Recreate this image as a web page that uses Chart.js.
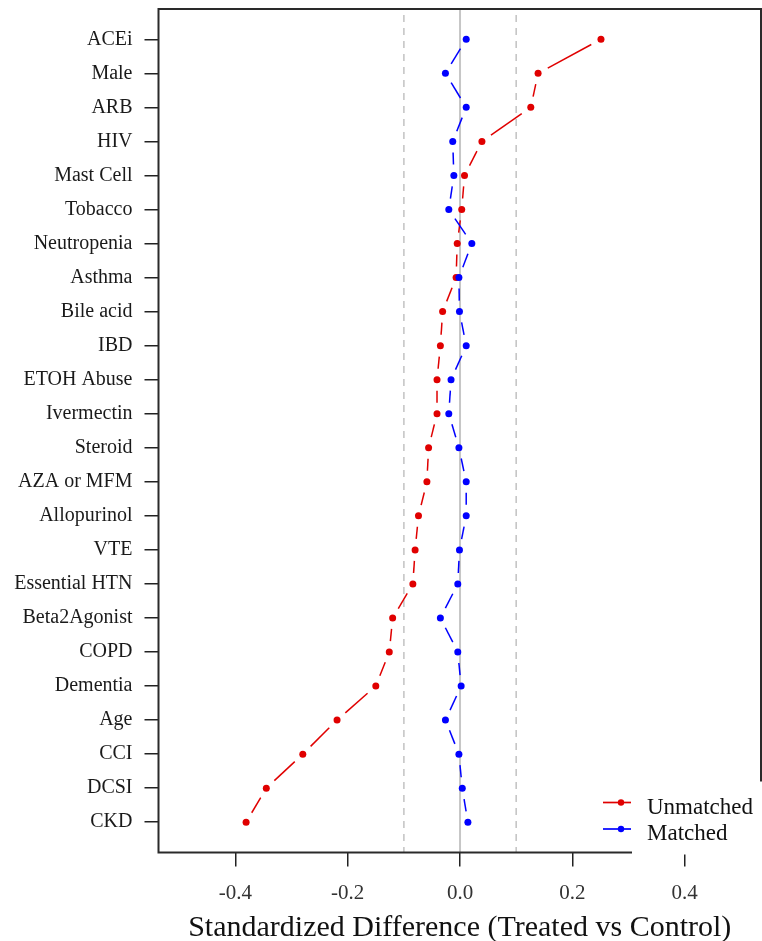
<!DOCTYPE html>
<html>
<head>
<meta charset="utf-8">
<script src="https://cdn.jsdelivr.net/npm/chart.js@4.4.1/dist/chart.umd.min.js"></script>
<style>
    html, body { margin: 0; padding: 0; background: #fff; overflow: hidden; }
    #contenedor { width: 762px; height: 941px; }
</style>
</head>
<body>
<div id="contenedor"><canvas id="grafica-balance"></canvas></div>
<script>
//Variables del eje y (de arriba a abajo)
const variables = ['ACEi', 'Male', 'ARB', 'HIV', 'Mast Cell', 'Tobacco', 'Neutropenia', 'Asthma',
    'Bile acid', 'IBD', 'ETOH Abuse', 'Ivermectin', 'Steroid', 'AZA or MFM', 'Allopurinol', 'VTE',
    'Essential HTN', 'Beta2Agonist', 'COPD', 'Dementia', 'Age', 'CCI', 'DCSI', 'CKD'];

//Diferencias estandarizadas antes del emparejamiento
const unmatched = [0.251, 0.139, 0.126, 0.039, 0.008, 0.003, -0.005, -0.007,
    -0.031, -0.035, -0.041, -0.041, -0.056, -0.059, -0.074, -0.080,
    -0.084, -0.120, -0.126, -0.150, -0.219, -0.280, -0.345, -0.381];

//Diferencias estandarizadas despues del emparejamiento
const matched = [0.011, -0.026, 0.011, -0.013, -0.011, -0.020, 0.021, -0.002,
    -0.001, 0.011, -0.016, -0.020, -0.002, 0.011, 0.011, -0.001,
    -0.004, -0.035, -0.004, 0.002, -0.026, -0.002, 0.004, 0.014];

const xTicks = [-0.4, -0.2, 0.0, 0.2, 0.4];
const lineasReferencia = [-0.1, 0.0, 0.1];

const fuente = "'Liberation Serif', 'DejaVu Serif', serif";
const ROJO = '#e00000';
const AZUL = '#0000ff';
const HUECO = 11; // hueco alrededor de cada punto (tipo "b" de R)

//Cada tramo se dibuja como un solo trazo con hueco en ambos extremos
function trazoTramo(ctx) {
    const largo = Math.hypot(ctx.p1.x - ctx.p0.x, ctx.p1.y - ctx.p0.y);
    return [Math.max(largo - 2 * HUECO, 0), 1000 + ctx.p0DataIndex];
}

function serie(etiqueta, valores, color, orden) {
    return {
        label: etiqueta,
        data: valores.map((v, i) => ({x: v, y: i})),
        showLine: true,
        order: orden,
        borderColor: color,
        backgroundColor: color,
        borderWidth: 1.5,
        pointRadius: 3.5,
        pointBorderWidth: 0,
        pointBackgroundColor: color,
        segment: {
            borderDash: trazoTramo,
            borderDashOffset: -HUECO
        }
    };
}

let datos = {
    datasets: [
        serie('Unmatched', unmatched, ROJO, 2),
        serie('Matched', matched, AZUL, 1)
    ]
};

//Lineas grises de referencia, marco y leyenda
const marcoYLeyenda = {
    id: 'marcoYLeyenda',
    beforeDatasetsDraw(chart) {
        const {ctx, chartArea: {top, bottom}, scales: {x}} = chart;
        ctx.save();
        lineasReferencia.forEach(v => {
            const px = x.getPixelForValue(v);
            ctx.beginPath();
            ctx.strokeStyle = '#c6c6c6';
            ctx.lineWidth = v === 0 ? 2 : 1.6;
            ctx.setLineDash(v === 0 ? [] : [7, 6]);
            ctx.moveTo(px, v === 0 ? top : top + 6);
            ctx.lineTo(px, bottom);
            ctx.stroke();
        });
        ctx.restore();
        // recalcular los tramos con las posiciones finales
        chart.data.datasets.forEach((d, i) => {
            const linea = chart.getDatasetMeta(i).dataset;
            if (linea) linea.points = linea.points;
        });
    },
    afterDraw(chart) {
        const {ctx, chartArea: {top, bottom, left, right}} = chart;
        ctx.save();
        ctx.strokeStyle = '#2a2a2a';
        ctx.lineWidth = 2;
        ctx.strokeRect(left, top, right - left, bottom - top);

        // caja blanca de la leyenda
        ctx.fillStyle = '#fff';
        ctx.fillRect(right - 129, bottom - 71, chart.width - right + 129, 73);

        chart.data.datasets.forEach((d, i) => {
            const y = bottom - 50 + i * 26.5;
            ctx.strokeStyle = d.borderColor;
            ctx.lineWidth = 1.7;
            ctx.beginPath();
            ctx.moveTo(right - 158, y);
            ctx.lineTo(right - 130, y);
            ctx.stroke();
            ctx.fillStyle = d.borderColor;
            ctx.beginPath();
            ctx.arc(right - 140, y, 3.2, 0, Math.PI * 2);
            ctx.fill();
            ctx.fillStyle = '#111';
            ctx.font = '23px ' + fuente;
            ctx.textBaseline = 'alphabetic';
            ctx.textAlign = 'left';
            ctx.fillText(d.label, right - 114, y + 11);
        });
        ctx.restore();
    }
};

let opciones = {
    responsive: true,
    maintainAspectRatio: false,
    devicePixelRatio: 1,
    animation: false,
    layout: {autoPadding: false, padding: {left: 0, right: 1, top: 9, bottom: 0}},
    plugins: {
        legend: {display: false},
        tooltip: {enabled: false}
    },
    scales: {
        x: {
            type: 'linear',
            position: 'bottom',
            min: -0.537,
            max: 0.536,
            afterBuildTicks: s => { s.ticks = xTicks.map(v => ({value: v})); },
            afterFit: s => { s.height = 88.5; s.paddingLeft = 0; s.paddingRight = 0; },
            ticks: {
                autoSkip: false,
                maxRotation: 0,
                padding: 14,
                color: '#333',
                font: {family: fuente, size: 21},
                callback: v => v.toFixed(1)
            },
            grid: {drawOnChartArea: false, tickLength: 14, color: '#222', lineWidth: 1.5},
            border: {display: false},
            title: {
                display: true,
                text: 'Standardized Difference (Treated vs Control)',
                color: '#111',
                font: {family: fuente, size: 30, lineHeight: 1},
                padding: {top: 0, bottom: -2}
            }
        },
        y: {
            type: 'linear',
            reverse: true,
            min: -0.89,
            max: 23.89,
            afterBuildTicks: s => { s.ticks = variables.map((_, i) => ({value: i})); },
            afterFit: s => { s.width = 158.5; s.paddingTop = 0; s.paddingBottom = 0; },
            ticks: {
                autoSkip: false,
                padding: 12,
                color: '#1a1a1a',
                font: {family: fuente, size: 20},
                callback: v => variables[v]
            },
            grid: {drawOnChartArea: false, tickLength: 14, color: '#222', lineWidth: 1.5},
            border: {display: false}
        }
    }
};

let miGrafica = new Chart(document.getElementById('grafica-balance'), {
    type: 'scatter',
    data: datos,
    options: opciones,
    plugins: [marcoYLeyenda]
});
</script>
</body>
</html>
